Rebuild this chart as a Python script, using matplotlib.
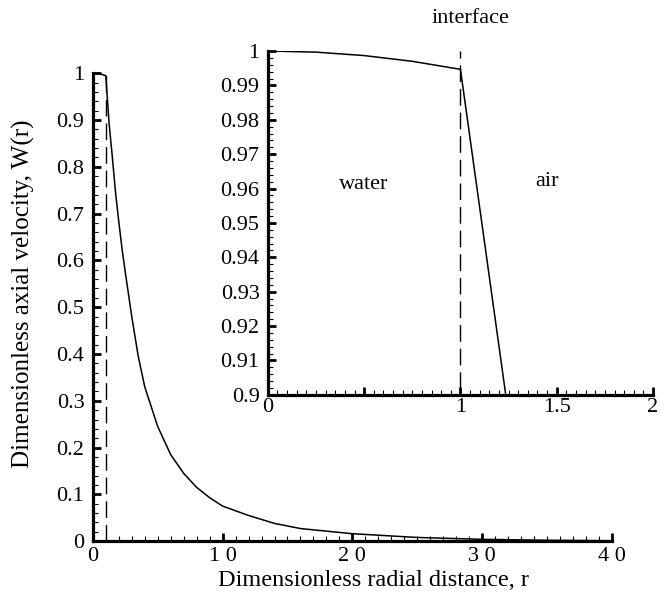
import matplotlib
matplotlib.use("Agg")
from matplotlib import pyplot as plt
from matplotlib.ticker import MultipleLocator

plt.rcParams["font.family"] = ["Liberation Serif", "DejaVu Serif"]

# velocity profile
r = [0, 0.25, 0.5, 0.75, 1.0, 1.25, 1.5, 1.75, 2.0, 2.25, 2.5, 3.0, 3.5, 4.0,
     5.0, 6.0, 7.0, 8.0, 9.0, 10, 12, 14, 16, 20, 25, 30, 35, 40]
w = [1.0, 0.99967, 0.99867, 0.9970, 0.99467, 0.894, 0.822, 0.745, 0.683, 0.625,
     0.575, 0.48, 0.395, 0.33, 0.245, 0.185, 0.145, 0.115, 0.093, 0.075, 0.055,
     0.038, 0.027, 0.016, 0.008, 0.004, 0.002, 0.001]

r_interface = [1.0, 1.0]
w_interface = [0.0, 1.0]


def style_axes(ax, xmaj, xmin, ymaj, ymin):
    ax.spines["top"].set_visible(False)
    ax.spines["right"].set_visible(False)
    ax.spines["left"].set_linewidth(2.3)
    ax.spines["bottom"].set_linewidth(2.3)
    ax.xaxis.set_major_locator(MultipleLocator(xmaj))
    ax.xaxis.set_minor_locator(MultipleLocator(xmin))
    ax.yaxis.set_major_locator(MultipleLocator(ymaj))
    ax.yaxis.set_minor_locator(MultipleLocator(ymin))
    ax.tick_params(which="major", direction="in", length=6, width=2.0, labelsize=16)
    ax.tick_params(which="minor", direction="in", length=3.5, width=0.8)
    ax.tick_params(axis="y", which="major", pad=6)
    ax.tick_params(axis="x", which="major", pad=4)


fig = plt.figure(figsize=(6.63, 6.0), dpi=100)

ax = fig.add_axes([0.140, 0.098, 0.783, 0.780])
ax.plot(r, w, color="black", lw=1.1, clip_on=False)
ax.plot(r_interface, w_interface, color="black", lw=1.0, dashes=(12, 5))
ax.set_xlim(0, 40)
ax.set_ylim(0, 1)
style_axes(ax, 10, 1, 0.1, 0.02)
ax.set_xticks([0, 10, 20, 30, 40])
ax.set_xticklabels(["0", "1 0", "2 0", "3 0", "4 0"])
ax.set_yticks([0, 0.1, 0.2, 0.3, 0.4, 0.5, 0.6, 0.7, 0.8, 0.9, 1])
ax.set_yticklabels(["0", "0.1", "0.2", "0.3", "0.4", "0.5", "0.6", "0.7", "0.8", "0.9", "1"])
ax.set_xlabel("Dimensionless radial distance, r", fontsize=17.5)
ax.xaxis.set_label_coords(0.541, -0.062)
ax.set_ylabel("Dimensionless axial velocity, W(r)", fontsize=18)
ax.yaxis.set_label_coords(-0.112, 0.528)

ins = fig.add_axes([0.404, 0.342, 0.581, 0.573])
ins.patch.set_alpha(0)
ins.plot(r, w, color="black", lw=1.1)
ins.plot(r_interface, w_interface, color="black", lw=1.0, dashes=(12, 5))
ins.set_xlim(0, 2)
ins.set_ylim(0.9, 1)
style_axes(ins, 0.5, 0.05, 0.01, 0.002)
ins.set_xticks([0, 0.5, 1, 1.5, 2])
ins.set_xticklabels(["0", "", "1", "1.5", "2"])
ins.set_yticks([0.9, 0.91, 0.92, 0.93, 0.94, 0.95, 0.96, 0.97, 0.98, 0.99, 1])
ins.set_yticklabels(["0.9", "0.91", "0.92", "0.93", "0.94", "0.95", "0.96", "0.97", "0.98", "0.99", "1"])
ins.tick_params(axis="x", which="major", pad=2)

ins.text(0.50, 0.9612, "water", fontsize=16, ha="center", va="center")
ins.text(1.45, 0.9620, "air", fontsize=16, ha="center", va="center")
ins.text(1.05, 1.0095, "interface", fontsize=16, ha="center", va="center", clip_on=False)

fig.savefig("out.png", dpi=100)
